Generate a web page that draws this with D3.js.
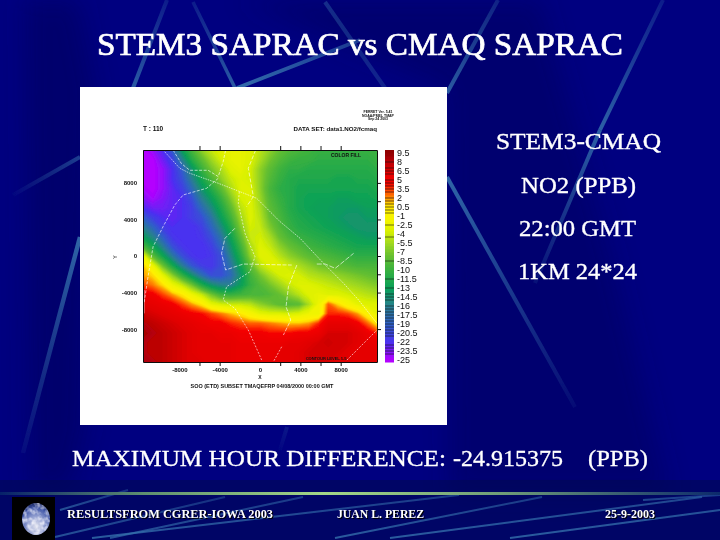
<!DOCTYPE html>
<html>
<head>
<meta charset="utf-8">
<script src="https://d3js.org/d3.v7.min.js"></script>
<style>
  html, body { margin: 0; padding: 0; background: #000080; }
  svg { display: block; }
  .slide { font-family: "Liberation Serif", serif; fill: #fff; }
  .plot text { font-family: "Liberation Sans", sans-serif; fill: #111; }
  .plot .domain, .plot line { stroke: #111; }
</style>
</head>
<body>
<div id="chart"></div>
<script>
// contour field, north to south, west to east (PPB)
const field = [
  [-25,-24,-22,-19,-13,-9,-6,-4,-3,-2.5,-2.5,-3,-4.5,-6,-7.5,-8.5,-9,-9.5,-10,-10,-10,-10,-10,-10,-10],
  [-25,-25,-23,-21,-16,-11,-8,-5.5,-3.5,-2.5,-2.5,-3,-5,-7,-8.5,-9.5,-10,-10,-10.5,-10.5,-10.5,-10.5,-10.5,-10.5,-10],
  [-25,-25,-24,-22,-19,-14,-10,-7,-5,-3,-2.5,-3.5,-6,-8,-9.5,-10.5,-10.5,-11,-11,-11,-11,-11,-11,-11,-10.5],
  [-25,-25,-24,-22,-20,-16,-12,-9,-6,-4,-3,-3.5,-6,-8.5,-10,-11,-11.5,-11.5,-11.5,-11.5,-12,-12,-11.5,-11.5,-11],
  [-24.5,-25,-24,-22.5,-21,-18,-14,-11,-8,-5,-3,-3,-6,-9,-10.5,-11,-12,-12,-12,-12,-12,-12,-12,-12,-11.5],
  [-23.5,-24.5,-23.5,-22.5,-22,-20,-16,-13,-10,-6.5,-3.5,-3,-5.5,-8.5,-10,-11,-12,-12.5,-12.5,-12.5,-13,-13,-12.5,-12.5,-12],
  [-22,-23,-23,-22.5,-22,-21,-18,-15,-11.5,-8,-4.5,-3,-5,-8,-9.5,-11,-12,-12.5,-13,-13,-13.5,-13.5,-13.5,-13,-13],
  [-19,-21,-22,-22.5,-22,-21,-20,-17,-13,-9.5,-5.5,-3,-4.5,-7.5,-9,-10.5,-11.5,-12,-12.5,-13,-13.5,-14,-14,-13.5,-13.5],
  [-16,-18.5,-21,-22,-22,-22,-21,-18.5,-15,-11,-6.5,-3.5,-4,-6.5,-8.5,-10,-11,-11.5,-12,-12.5,-13,-13.5,-14,-14,-14],
  [-13,-15.5,-19,-21.5,-22,-22,-21.5,-20,-17,-12.5,-8,-4,-3.5,-5,-7.5,-9,-10,-10.5,-11,-11.5,-12,-12.5,-13,-13.5,-13.5],
  [-9,-12,-16,-20,-21.5,-22,-22,-21,-18.5,-14,-9.5,-5,-3,-4,-6,-7.5,-8.5,-9.5,-10,-10.5,-11,-11.5,-12,-12,-12],
  [-2,-8,-12,-16.5,-20,-21.5,-22,-21.5,-20,-15.5,-11,-6,-3,-3,-4.5,-6,-7,-8,-8.5,-9,-9.5,-10,-10.5,-10.5,-10.5],
  [1.5,-2,-7,-11.5,-16,-19.5,-21,-21.5,-20,-17,-12.5,-8,-4.5,-3,-3,-4,-5,-6,-7,-7.5,-8,-8.5,-9,-9,-9],
  [2,1,-2.5,-6,-10,-14,-17.5,-20,-20,-18,-14,-9.5,-7,-5,-3.5,-3,-3.5,-4.5,-5,-5.5,-6,-6.5,-7,-7.5,-8],
  [3.5,2.5,1,-2,-4,-7,-11,-14,-15.5,-16,-13,-10,-8.5,-7,-5.5,-4,-3,-3,-3.5,-4,-4.5,-5,-5.5,-6,-6.5],
  [5.5,5,3.5,2,0.5,-2,-4,-7,-9.5,-10,-9.5,-9,-9,-8.5,-7.5,-6,-4.5,-3,-2.5,-3,-3,-3.5,-4,-4.5,-5],
  [6.5,6,5.5,5,3.5,2,0.5,-2.5,-3.5,-4,-4,-4.5,-6,-7,-8,-8.5,-8,-5,-2,3,1,-1,-2.5,-3,-3],
  [7.5,7,6.5,6,5.5,5,4.5,3.5,2.5,1.5,0.5,-1,-2.5,-3,-3,-3.5,-3,-2,-2,4,4,3.5,2,-0.5,-2.5],
  [8.5,8,7.5,7,6.5,6,5.5,5,5,4,3.5,3,3,2.5,2,1.5,1.5,2,4,6,6,6,5,3,0.5],
  [9,8.5,8,7.5,7,6.5,6,6,5.5,5.5,5,5,5,4.5,4.5,4.5,5,5,5.5,7,7,7,6.5,5.5,4],
  [8.5,8,8,7.5,7,6.5,6,6,6,6,5.5,5.5,5.5,5.5,5.5,6,6,6.5,7,7.5,7,7,6.5,6,5.5],
  [8.5,8,8,7.5,7,6.5,6,6,6,6,5.5,5.5,5.5,5.5,6,6,6.5,7,7,7,7,6.5,6,6,6],
  [8.5,8.5,8,7.5,7,6.5,6.5,6,6,6,5.5,5.5,5.5,5.5,6,6,6.5,7,7,7,6.5,6.5,6,6,6]
]

// colour bar
const colorStops = [-25, -22, -19, -16, -13, -10, -7.5, -5.5, -3.5, -2, 0, 1, 2, 3.5, 4.5, 6.5, 8.5, 9.5]
const colorValues = ['#b400ff','#4a30f0','#3060c8','#2a8090','#08a058','#38b040','#68c030','#a0d820','#d8f000','#f0f400','#fff000','#ffd800','#ff9000','#ff3800','#f40000','#e00000','#b00008','#900000']
const barLabels = [9.5, 8, 6.5, 5, 3.5, 2, 0.5, -1, -2.5, -4, -5.5, -7, -8.5, -10, -11.5, -13, -14.5, -16, -17.5, -19, -20.5, -22, -23.5, -25]
const barLines = [8, 7, 6.5, 6, 5, 4.5, 4, 3.5, 3, 2, 1.5, 1, 0.5, 0, -0.5, -2.5, -4.5, -8.5, -11.5, -13, -14, -14.5, -15, -16, -16.5, -17, -17.5, -18, -18.5, -19, -19.5, -20, -20.5, -21, -22.5, -23, -23.5, -24]

// axes
const axisTicksX = [-6000, -4000, 2000, 4000, 6000, 8000]
const axisLabelsX = [-8000, -4000, 0, 4000, 8000]
const axisTicksY = [8000, 6000, 4000, 2000, 0, -2000, -4000, -6000, -8000]
const axisLabelsY = [8000, 4000, 0, -4000, -8000]

// state lines, map units
const mapLines = [
  { dash: '1.5,1', pts: [[-9610,11600],[-7950,9600],[-6960,9050],[-4140,7960],[-1990,7040],[-330,6310],[1990,3760],[3980,1930],[6300,-800],[8290,-2990],[9780,-4820],[11600,-7370]] },
  { dash: '3,1.5', pts: [[-8620,11600],[-7790,10110],[-6960,9380],[-5140,9380],[-4140,8690],[-3650,10330],[-3410,11600]] },
  { dash: '3,1.5', pts: [[-4140,8500],[-5300,7410],[-7620,6680],[-8450,5580],[-9610,3210],[-10600,1020],[-11100,-2260],[-11500,-5180]] },
  { dash: '2,1.5', pts: [[-2050,7040],[-2150,5770],[-1490,2480],[-500,-70],[-990,-1720],[-3310,-3360],[-3650,-4820],[-2490,-5730],[-1160,-8100],[170,-11390]] },
  { dash: '4,2', pts: [[-430,11600],[-1160,9600],[-660,6500],[-1330,5400]] },
  { dash: '4,1.5', pts: [[-2490,3030],[-3480,1930],[-3810,290],[-3410,-1530],[-1660,-880],[3150,-990]] },
  { dash: '5,1.5', pts: [[5630,-880],[6460,-880],[7460,-1350],[9280,290]] },
  { dash: '4,1.5', pts: [[3650,-990],[2820,-3360],[2580,-5550],[3050,-7010],[2320,-8650]] },
  { dash: '2,1.5', pts: [[2150,-9930],[1330,-11570]] },
  { dash: '2,1.5', pts: [[8620,-11390],[10600,-9200],[11600,-8100]] },
  { dash: null, pts: [[-11500,-3720],[-11500,-6280]] }
]

const width = 720,
  height = 540

const svg = d3.select('#chart')
  .append('svg')
  .attr('width', width)
  .attr('height', height)

const defs = svg.append('defs')

defs.append('filter').attr('id', 'soft').attr('x', '-20%').attr('y', '-20%').attr('width', '140%').attr('height', '140%')
  .append('feGaussianBlur').attr('stdDeviation', 0.6)
defs.append('filter').attr('id', 'fuzz')
  .append('feGaussianBlur').attr('stdDeviation', 0.4)
defs.append('filter').attr('id', 'wide').attr('x', '-30%').attr('y', '-30%').attr('width', '160%').attr('height', '160%')
  .append('feGaussianBlur').attr('stdDeviation', 12)

const rule = defs.append('linearGradient').attr('id', 'rule')
rule.selectAll('stop')
  .data([[0, '#06206a'], [0.2, '#5f9070'], [0.45, '#a4d888'], [0.7, '#6f9c78'], [1, '#0c2a6c']])
  .enter().append('stop')
  .attr('offset', d => d[0])
  .attr('stop-color', d => d[1])

const globeFill = defs.append('radialGradient').attr('id', 'globe').attr('cx', '50%').attr('cy', '72%').attr('r', '70%')
globeFill.selectAll('stop')
  .data([[0, '#e0e2ee'], [0.4, '#9aa6d4'], [0.8, '#4258a8'], [1, '#22306e']])
  .enter().append('stop')
  .attr('offset', d => d[0])
  .attr('stop-color', d => d[1])

// cloud mottling on the globe
const clouds = defs.append('filter').attr('id', 'clouds')
clouds.append('feTurbulence').attr('type', 'fractalNoise').attr('baseFrequency', 0.22).attr('numOctaves', 2).attr('seed', 4).attr('result', 'n')
clouds.append('feColorMatrix').attr('in', 'n').attr('type', 'matrix')
  .attr('values', '0 0 0 0 0.95  0 0 0 0 0.95  0 0 0 0 1  2.4 0 0 0 -0.95').attr('result', 'c')
clouds.append('feComposite').attr('in', 'c').attr('in2', 'SourceGraphic').attr('operator', 'in')

defs.append('clipPath').attr('id', 'plotClip')
  .append('rect').attr('x', 143).attr('y', 150).attr('width', 234).attr('height', 212)

// slide background
svg.append('rect').attr('width', width).attr('height', height).attr('fill', '#000080')
const shade = svg.append('g').attr('filter', 'url(#wide)').attr('fill', '#000050')
shade.append('path').attr('d', 'M25,0L78,0L95,90L85,430L70,490L30,490Z').attr('opacity', 0.4)
shade.append('path').attr('d', 'M240,0L540,0L610,250L668,495L450,495L447,90Z').attr('opacity', 0.35)
svg.append('rect').attr('y', 480).attr('width', width).attr('height', 60).attr('fill', '#000a50').attr('opacity', 0.55)

// each streak: bright end, faded end, opacity at each
const streaks = [
  [[133,88],[167,0],0.8,0.25,4], [[235,88],[193,2],0.8,0.25,3.5], [[237,88],[360,40],0.95,0.5,4], [[385,88],[325,2],0.3,0.4,4],
  [[447,93],[498,0],0.8,0.3,4], [[600,130],[663,0],0.85,0.25,4], [[600,130],[535,283],0.85,0.15,4], [[447,177],[575,407],0.9,0.1,4],
  [[80,157],[13,195],0.55,0.05,4], [[80,237],[23,453],0.9,0.1,4.5], [[287,427],[280,450],0.2,0.05,4],
  [[128,490],[60,510],0.4,0.7,2], [[225,497],[55,537],0.4,0.7,2], [[303,497],[110,538],0.5,0.7,2], [[459,495],[92,538],0.5,0.8,2],
  [[542,497],[335,538],0.5,0.8,2], [[702,497],[390,538],0.6,0.8,2], [[720,510],[510,538],0.7,0.8,2], [[720,495],[643,500],0.5,0.6,2]
]
streaks.forEach((s, i) => {
  const g = defs.append('linearGradient').attr('id', 'streak' + i).attr('gradientUnits', 'userSpaceOnUse')
    .attr('x1', s[0][0]).attr('y1', s[0][1]).attr('x2', s[1][0]).attr('y2', s[1][1])
  g.append('stop').attr('offset', 0).attr('stop-color', '#3470ac').attr('stop-opacity', s[2])
  g.append('stop').attr('offset', 1).attr('stop-color', '#3470ac').attr('stop-opacity', s[3])
})
svg.append('g').selectAll('polygon')
  .data(streaks)
  .enter().append('polygon')
  .attr('points', d => {
    const dx = d[1][0] - d[0][0], dy = d[1][1] - d[0][1], len = Math.hypot(dx, dy)
    const nx = -dy / len * d[4] / 2, ny = dx / len * d[4] / 2
    return [[d[0][0] + nx, d[0][1] + ny], [d[1][0] + nx, d[1][1] + ny], [d[1][0] - nx, d[1][1] - ny], [d[0][0] - nx, d[0][1] - ny]].join(' ')
  })
  .attr('fill', (d, i) => 'url(#streak' + i + ')')
  .attr('filter', 'url(#fuzz)')

// plot page
const plot = svg.append('g').attr('class', 'plot')
plot.append('rect').attr('x', 80).attr('y', 87).attr('width', 367).attr('height', 338).attr('fill', '#fff')

const x = d3.scaleLinear().domain([-11600, 11600]).range([143, 377])
const y = d3.scaleLinear().domain([-11600, 11600]).range([362, 150])
const color = d3.scaleLinear().domain(colorStops).range(colorValues).clamp(true)

const nRows = field.length,
  nCols = field[0].length

// grid index to pixel scales
const colX = d3.scaleLinear().domain([0.5, nCols - 0.5]).range([143, 377])
const rowY = d3.scaleLinear().domain([0.5, nRows - 0.5]).range([150, 362])

const contours = d3.contours()
  .size([nCols, nRows])
  .smooth(true)
  .thresholds(d3.range(-25.25, 9.75, 0.25))(field.flat())

const gridPath = d3.geoPath(d3.geoTransform({
  point: function(px, py) { this.stream.point(colX(px), rowY(py)) }
}))

const map = plot.append('g').attr('clip-path', 'url(#plotClip)')
map.append('g').attr('filter', 'url(#soft)')
  .selectAll('path')
  .data(contours)
  .enter().append('path')
  .attr('d', gridPath)
  .attr('fill', d => color(d.value))

const mapLine = d3.line().x(d => x(d[0])).y(d => y(d[1]))
map.append('g').selectAll('path')
  .data(mapLines)
  .enter().append('path')
  .attr('d', d => mapLine(d.pts))
  .attr('fill', 'none')
  .attr('stroke', '#fff')
  .attr('stroke-width', 0.7)
  .attr('stroke-dasharray', d => d.dash)
  .attr('opacity', 0.9)

// axes
const inkLayer = plot.append('g').attr('filter', 'url(#fuzz)')

const xTop = inkLayer.append('g').attr('transform', 'translate(0,150)')
  .call(d3.axisTop(x).tickValues(axisTicksX).tickSize(4).tickSizeOuter(0).tickFormat(''))
const xBottom = inkLayer.append('g').attr('transform', 'translate(0,362)')
  .call(d3.axisBottom(x).tickValues(axisTicksX).tickSize(4).tickSizeOuter(0).tickFormat(''))
const yRight = inkLayer.append('g').attr('transform', 'translate(377,0)')
  .call(d3.axisRight(y).tickValues(axisTicksY).tickSize(4).tickSizeOuter(0).tickFormat(''))
const yLeft = inkLayer.append('g').attr('transform', 'translate(143,0)')
  .call(d3.axisLeft(y).tickValues(axisLabelsY).tickSize(0).tickPadding(6).tickSizeOuter(0).tickFormat(d => d < 0 ? '-' + (-d) : d))
const xLabels = inkLayer.append('g').attr('transform', 'translate(0,362)')
  .call(d3.axisBottom(x).tickValues(axisLabelsX).tickSize(0).tickPadding(6).tickFormat(d => d < 0 ? '-' + (-d) : d))
xLabels.select('.domain').remove()
yLeft.selectAll('text').attr('font-size', 6).attr('font-weight', 'bold')
xLabels.selectAll('text').attr('font-size', 6).attr('font-weight', 'bold')

// colour bar
const barY = d3.scaleLinear().domain([10, -25.33]).range([150, 362])
const barSteps = d3.range(-25.5, 10, 0.5)
plot.append('g').selectAll('rect')
  .data(barSteps)
  .enter().append('rect')
  .attr('x', 385)
  .attr('width', 9)
  .attr('y', d => Math.max(150, barY(d + 0.5)))
  .attr('height', d => Math.min(362, barY(d)) - Math.max(150, barY(d + 0.5)) + 0.5)
  .attr('fill', d => color(d + 0.25))
plot.append('g').selectAll('line')
  .data(barLines)
  .enter().append('line')
  .attr('x1', 385).attr('x2', 394)
  .attr('y1', d => barY(d)).attr('y2', d => barY(d))
  .attr('stroke-width', 0.7)
  .attr('opacity', 0.85)

const barAxis = inkLayer.append('g').attr('transform', 'translate(394,0)')
  .call(d3.axisRight(barY).tickValues(barLabels).tickSize(0).tickPadding(3).tickSizeOuter(0).tickFormat(d => d < 0 ? '-' + (-d) : d))
barAxis.select('.domain').remove()
barAxis.selectAll('text').attr('font-size', 9)

// page labels
const notes = [
  ['T : 110', 143, 131, 6.5, 'start'],
  ['DATA SET: data1.NO2/fcmaq', 377, 131, 6.2, 'end'],
  ['SOO (ETD) SUBSET TMAQEFRP 04/08/2000 00:00 GMT', 262, 388, 5.5, 'middle'],
  ['X', 260, 379, 5, 'middle'],
  ['FERRET Ver. 5.41', 378, 113, 3.5, 'middle'],
  ['NOAA/PMEL TMAP', 378, 116.5, 3.5, 'middle'],
  ['Sep 24 2003', 378, 120, 3.5, 'middle'],
  ['COLOR FILL', 346, 156.5, 5, 'middle'],
  ['CONTOUR LEVEL 1.5', 326, 359.5, 4, 'middle']
]
inkLayer.selectAll('text.note')
  .data(notes)
  .enter().append('text')
  .attr('class', 'note')
  .attr('x', d => d[1])
  .attr('y', d => d[2])
  .attr('font-size', d => d[3])
  .attr('font-weight', 'bold')
  .attr('text-anchor', d => d[4])
  .text(d => d[0])
inkLayer.append('text').attr('transform', 'translate(117,257) rotate(-90)')
  .attr('font-size', 5).attr('text-anchor', 'middle').text('Y')

// slide text: label, left, baseline, size, fitted width, heft
const slideText = [
  ['STEM3 SAPRAC vs CMAQ SAPRAC', 97, 55, 31, 526, 0.7],
  ['STEM3-CMAQ', 496, 149, 23, 165, 0.35],
  ['NO2 (PPB)', 521, 193, 23, 115, 0.35],
  ['22:00 GMT', 519, 236, 23, 117, 0.35],
  ['1KM 24*24', 518, 279, 23, 119, 0.35],
  ['MAXIMUM HOUR DIFFERENCE:', 72, 466, 23, 374, 0.3],
  ['-24.915375', 453, 466, 23, 110, 0.3],
  ['(PPB)', 588, 466, 23, 60, 0.3]
]
svg.append('g').attr('class', 'slide').selectAll('text')
  .data(slideText)
  .enter().append('text')
  .attr('x', d => d[1])
  .attr('y', d => d[2])
  .attr('font-size', d => d[3])
  .attr('textLength', d => d[4])
  .attr('lengthAdjust', 'spacingAndGlyphs')
  .attr('stroke', '#fff')
  .attr('stroke-width', d => d[5])
  .text(d => d[0])

// footer
svg.append('rect').attr('x', 0).attr('y', 492).attr('width', width).attr('height', 3).attr('fill', 'url(#rule)')
svg.append('rect').attr('x', 12).attr('y', 497).attr('width', 43).attr('height', 43).attr('fill', '#000')
svg.append('ellipse').attr('cx', 36).attr('cy', 519).attr('rx', 14).attr('ry', 16).attr('fill', 'url(#globe)')
svg.append('ellipse').attr('cx', 36).attr('cy', 519).attr('rx', 14).attr('ry', 16).attr('fill', '#fff').attr('filter', 'url(#clouds)').attr('opacity', 0.8)

const footerText = [
  ['RESULTSFROM CGRER-IOWA 2003', 67, 206],
  ['JUAN L. PEREZ', 337, 87],
  ['25-9-2003', 605, 50]
]
const footer = svg.append('g').attr('class', 'slide').attr('font-weight', 'bold').attr('font-size', 13)
footer.selectAll('text.shadow')
  .data(footerText)
  .enter().append('text')
  .attr('class', 'shadow')
  .attr('x', d => d[1] + 1)
  .attr('y', 519)
  .attr('textLength', d => d[2])
  .attr('lengthAdjust', 'spacingAndGlyphs')
  .style('fill', '#000')
  .text(d => d[0])
footer.selectAll('text.face')
  .data(footerText)
  .enter().append('text')
  .attr('class', 'face')
  .attr('x', d => d[1])
  .attr('y', 518)
  .attr('textLength', d => d[2])
  .attr('lengthAdjust', 'spacingAndGlyphs')
  .text(d => d[0])
</script>
</body>
</html>
